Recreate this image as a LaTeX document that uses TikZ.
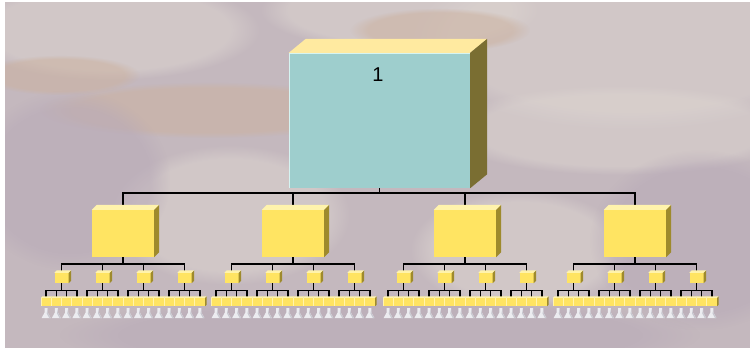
\documentclass[tikz,border=0pt]{standalone}
\usepackage{fontspec}
\setmainfont{Liberation Sans}
\usetikzlibrary{fadings}

\pgfdeclarelayer{marble}
\pgfdeclarelayer{wires}
\pgfsetlayers{marble,wires,main}

% marble backdrop
\definecolor{bgbase}{RGB}{196,184,190}
\definecolor{bglight}{RGB}{220,212,208}
\definecolor{bgtan}{RGB}{204,178,160}
\definecolor{bgmauve}{RGB}{184,170,184}
% boxes
\definecolor{tealface}{RGB}{158,206,205}
\definecolor{tealedge}{RGB}{214,244,242}
\definecolor{creamtop}{RGB}{255,234,160}
\definecolor{olive}{RGB}{122,110,50}
\definecolor{yface}{RGB}{255,228,98}
\definecolor{ytop}{RGB}{255,243,172}
\definecolor{yside}{RGB}{158,138,44}
\definecolor{pawn}{RGB}{236,236,240}
\definecolor{pawnshade}{RGB}{200,200,208}

\tikzset{
  x=1pt, y=-1pt,
  wire/.style={draw=black, line width=1.7pt},
  thinwire/.style={draw=black, line width=1.4pt},
  rootbox/.style={rectangle, fill=tealface, inner sep=0pt,
    minimum width=181pt, minimum height=135pt},
  midbox/.style={rectangle, fill=yface, inner sep=0pt,
    minimum width=62pt, minimum height=47pt},
  smallbox/.style={rectangle, fill=yface, inner sep=0pt,
    minimum width=14pt, minimum height=10pt},
  tinybox/.style={rectangle, fill=yface, inner sep=0pt,
    minimum width=10.25pt, minimum height=8pt},
  blob/.style={opacity=0.55, path fading=circle with fuzzy edge 20 percent},
  rootlabel/.style={font=\fontsize{20}{20}\selectfont, text=black},
}

% top and right faces of a box node: node, dx, dy, top colour, side colour
\newcommand\cubefaces[5]{%
  \fill[#4] (#1.north west) -- ++(#2,-#3) -- ([shift={(#2,-#3)}]#1.north east)
    -- (#1.north east) -- cycle;
  \fill[#5] (#1.north east) -- ++(#2,-#3) -- ([shift={(#2,-#3)}]#1.south east)
    -- (#1.south east) -- cycle;
}

\begin{document}
\begin{tikzpicture}
\useasboundingbox (0,0) rectangle (750,348);

% ---------- backdrop ----------
\begin{pgfonlayer}{marble}
  \fill[white] (0,0) rectangle (750,348);
  \fill[bgbase] (5,2) rectangle (750,348);
  \begin{scope}
    \clip (5,2) rectangle (750,348);
    \fill[bglight, blob] (630,40) ellipse [x radius=220, y radius=90];
    \fill[bglight, blob] (620,130) ellipse [x radius=180, y radius=45];
    \fill[bglight, blob] (400,10) ellipse [x radius=140, y radius=40];
    \fill[bglight, blob] (110,30) ellipse [x radius=150, y radius=50];
    \fill[bglight, blob] (230,215) ellipse [x radius=120, y radius=70];
    \fill[bglight, blob] (520,250) ellipse [x radius=110, y radius=60];
    \fill[bgtan, blob] (210,110) ellipse [x radius=170, y radius=28];
    \fill[bgtan, blob] (440,30) ellipse [x radius=90, y radius=22];
    \fill[bgtan, blob] (60,75) ellipse [x radius=80, y radius=20];
    \fill[bgmauve, blob] (70,180) ellipse [x radius=100, y radius=90];
    \fill[bgmauve, blob] (700,240) ellipse [x radius=110, y radius=90];
    \fill[bgmauve, blob] (380,335) ellipse [x radius=320, y radius=40];
  \end{scope}
\end{pgfonlayer}

% ---------- root ----------
\node[rootbox] (root) at (379.5,120.5) {};
\cubefaces{root}{17}{14}{creamtop}{olive}
\draw[tealedge, line width=1pt] ([shift={(0.5,0)}]root.south west)
  -- ([shift={(0.5,0.5)}]root.north west) -- ([shift={(0,0.5)}]root.north east);
\node[rootlabel] (rootnum) at (378,75) {1};

% ---------- second level ----------
\foreach \i/\mx in {1/123, 2/293, 3/465, 4/635} {
  \node[midbox] (mid-\i) at (\mx,233.5) {};
  \cubefaces{mid-\i}{5}{5}{ytop}{yside}
  \begin{pgfonlayer}{wires}
    \draw[wire] (root.south) -- ++(0,5) -| (mid-\i.north);
  \end{pgfonlayer}

  % ---------- third level ----------
  \foreach \j/\sx in {1/-61.5, 2/-20.5, 3/20.5, 4/61.5} {
    \node[smallbox] (sm-\i-\j) at (\mx+\sx,278) {};
    \cubefaces{sm-\i-\j}{2.5}{2.5}{ytop}{yside}
    \begin{pgfonlayer}{wires}
      \draw[wire] (mid-\i.south) -- ++(0,7) -| (sm-\i-\j.north);
    \end{pgfonlayer}

    % ---------- fourth level ----------
    \foreach \k/\tx in {1/-15.375, 2/-5.125, 3/5.125, 4/15.375} {
      \node[tinybox] (tn-\i-\j-\k) at (\mx+\sx+\tx,302) {};
      \cubefaces{tn-\i-\j-\k}{1.5}{1.5}{ytop}{yside}
      \draw[ytop, line width=0.5pt] (tn-\i-\j-\k.south west) -- (tn-\i-\j-\k.north west);
      \begin{pgfonlayer}{wires}
        \draw[thinwire] (sm-\i-\j.south) -- ++(0,7) -| (tn-\i-\j-\k.north);
      \end{pgfonlayer}
      % staff figure under each box
      \fill[pawn] ([shift={(-1.6,2)}]tn-\i-\j-\k.south) -- ++(3.2,0) -- ++(0,4.5)
        -- ++(3,5.5) -- ++(-9.2,0) -- ++(3,-5.5) -- cycle;
      \fill[pawnshade] ([shift={(1.6,2)}]tn-\i-\j-\k.south) -- ++(0,4.5)
        -- ++(3,5.5) -- ++(-1.4,0) -- ++(-2.6,-4.8) -- cycle;
    }
  }
}
\end{tikzpicture}
\end{document}
